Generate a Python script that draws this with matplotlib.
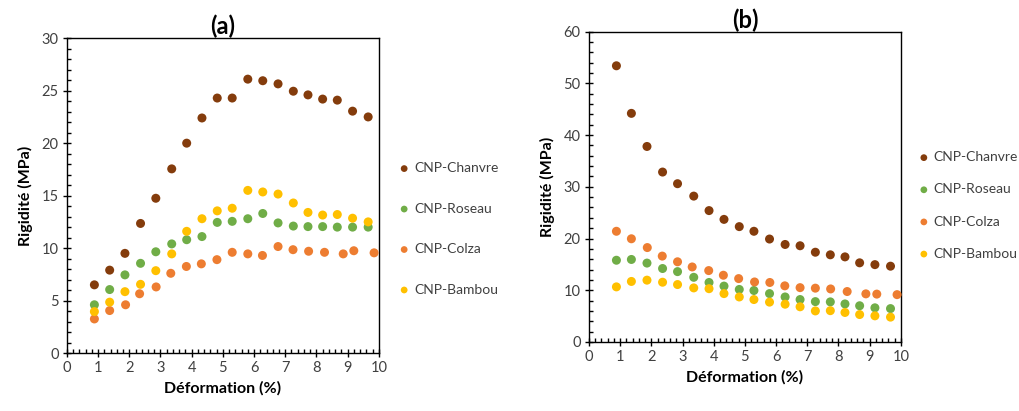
import matplotlib.pyplot as plt
from matplotlib.ticker import MultipleLocator

plt.rcParams['font.family'] = ['Lato', 'DejaVu Sans']

series_names = ["CNP-Chanvre", "CNP-Roseau", "CNP-Colza", "CNP-Bambou"]
colors = ["#843C0C", "#70AD47", "#ED7D31", "#FFC000"]

# (a)
xa = [0.88, 1.37, 1.86, 2.36, 2.85, 3.36, 3.84, 4.33, 4.82, 5.3, 5.8, 6.28,
      6.77, 7.26, 7.73, 8.2, 8.67, 9.16, 9.66]
xa_colza = [0.88, 1.37, 1.88, 2.33, 2.86, 3.33, 3.83, 4.31, 4.81, 5.3, 5.8, 6.27,
            6.77, 7.25, 7.75, 8.26, 8.86, 9.2, 9.85]
ya_chanvre = [6.5, 7.9, 9.5, 12.35, 14.75, 17.55, 20.0, 22.4, 24.3, 24.3, 26.1,
              25.95, 25.65, 24.95, 24.6, 24.2, 24.1, 23.05, 22.5]
ya_roseau = [4.6, 6.05, 7.45, 8.55, 9.65, 10.4, 10.8, 11.1, 12.45, 12.55, 12.8,
             13.3, 12.4, 12.1, 12.05, 12.05, 12.0, 12.0, 12.0]
ya_colza = [3.25, 4.05, 4.6, 5.65, 6.3, 7.6, 8.25, 8.5, 8.9, 9.6, 9.45, 9.3,
            10.15, 9.85, 9.7, 9.6, 9.45, 9.75, 9.55]
ya_bambou = [3.95, 4.85, 5.85, 6.55, 7.85, 9.45, 11.6, 12.8, 13.55, 13.8, 15.5,
             15.35, 15.15, 14.3, 13.4, 13.15, 13.2, 12.85, 12.5]

# (b)
xb = [0.88, 1.36, 1.86, 2.36, 2.84, 3.36, 3.85, 4.33, 4.82, 5.29, 5.79, 6.29,
      6.77, 7.26, 7.74, 8.21, 8.68, 9.17, 9.67]
xb_colza = [0.88, 1.36, 1.87, 2.35, 2.84, 3.31, 3.84, 4.31, 4.8, 5.31, 5.8, 6.28,
            6.77, 7.26, 7.75, 8.28, 8.88, 9.23, 9.88]
yb_chanvre = [53.4, 44.2, 37.8, 32.85, 30.6, 28.2, 25.4, 23.7, 22.3, 21.4, 19.9,
              18.85, 18.6, 17.35, 16.85, 16.45, 15.3, 14.95, 14.65]
yb_roseau = [15.8, 15.95, 15.25, 14.2, 13.6, 12.5, 11.5, 10.8, 10.15, 9.95, 9.35,
             8.7, 8.2, 7.8, 7.75, 7.35, 7.0, 6.6, 6.45]
yb_colza = [21.4, 19.95, 18.25, 16.6, 15.5, 14.5, 13.8, 12.9, 12.25, 11.6, 11.5,
            10.85, 10.5, 10.4, 10.25, 9.75, 9.3, 9.25, 9.15]
yb_bambou = [10.65, 11.7, 11.95, 11.55, 11.1, 10.45, 10.3, 9.35, 8.7, 8.2, 7.7,
             7.3, 6.8, 6.0, 6.05, 5.7, 5.3, 5.05, 4.8]

panel_a = [(xa, ya_chanvre), (xa, ya_roseau), (xa_colza, ya_colza), (xa, ya_bambou)]
panel_b = [(xb, yb_chanvre), (xb, yb_roseau), (xb_colza, yb_colza), (xb, yb_bambou)]

tick_color = "#404040"

fig = plt.figure(figsize=(10.19, 4.11), dpi=100)
ax_a = fig.add_axes([0.0657, 0.141, 0.306, 0.766])
ax_b = fig.add_axes([0.578, 0.168, 0.306, 0.755])


def style_axes(ax, ymax, ymajor, yminor, title):
    ax.set_xlim(0, 10)
    ax.set_ylim(0, ymax)
    ax.xaxis.set_major_locator(MultipleLocator(1))
    ax.xaxis.set_minor_locator(MultipleLocator(0.2))
    ax.yaxis.set_major_locator(MultipleLocator(ymajor))
    ax.yaxis.set_minor_locator(MultipleLocator(yminor))
    ax.tick_params(which="major", direction="inout", length=6, width=1,
                   labelsize=10.5, labelcolor=tick_color, pad=3)
    ax.tick_params(which="minor", direction="in", length=3, width=1)
    for sp in ax.spines.values():
        sp.set_color("black")
        sp.set_linewidth(1)
    ax.set_xlabel("Déformation (%)", fontsize=11.5, fontweight="bold", labelpad=4)
    ax.set_ylabel("Rigidité (MPa)", fontsize=11.5, fontweight="bold", labelpad=6)
    ax.set_title(title, fontsize=17, fontweight="bold", pad=2)


for ax, data in ((ax_a, panel_a), (ax_b, panel_b)):
    for (x, y), name, c in zip(data, series_names, colors):
        ax.scatter(x, y, s=42, color=c, label=name, edgecolors="none", zorder=3,
                   clip_on=False)

style_axes(ax_a, 30, 5, 1, "(a)")
style_axes(ax_b, 60, 10, 2, "(b)")

leg_a = ax_a.legend(loc="center left", bbox_to_anchor=(0.383, 0.443),
                    bbox_transform=fig.transFigure, frameon=False, fontsize=10,
                    labelspacing=2.05, handletextpad=0.1, markerscale=0.75,
                    borderaxespad=0, handlelength=1.2)
leg_b = ax_b.legend(loc="center left", bbox_to_anchor=(0.893, 0.5),
                    bbox_transform=fig.transFigure, frameon=False, fontsize=10,
                    labelspacing=1.45, handletextpad=0.1, markerscale=0.75,
                    borderaxespad=0, handlelength=1.2)
for leg in (leg_a, leg_b):
    for t in leg.get_texts():
        t.set_color(tick_color)

fig.savefig("out.png", dpi=100)
